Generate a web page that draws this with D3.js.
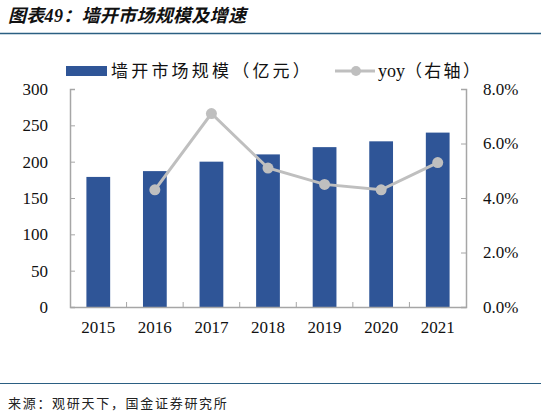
<!DOCTYPE html>
<html>
<head>
<meta charset="utf-8">
<script src="https://cdn.jsdelivr.net/npm/d3@7"></script>
<style>
  body { margin: 0; background: #fff; }
  svg text { font-family: "Liberation Serif", "Noto Sans CJK SC", serif; }
</style>
</head>
<body>
<div id="chart"></div>
<script>
// data
var years = ["2015", "2016", "2017", "2018", "2019", "2020", "2021"];
var marketSize = [179, 187, 200, 210, 220, 228, 240];   // 亿元
var yoy = [null, 4.3, 7.1, 5.1, 4.5, 4.3, 5.3];        // %
var leftTicks = [0, 50, 100, 150, 200, 250, 300];
var rightTicks = [0, 2, 4, 6, 8];

var svgWidth = 541, svgHeight = 416;
var svg = d3.select("#chart").append("svg")
  .attr("width", svgWidth)
  .attr("height", svgHeight);

// title + rules
svg.append("text")
  .attr("x", 8).attr("y", 22)
  .attr("font-family", "Noto Sans CJK SC")
  .attr("font-size", 18)
  .attr("font-weight", "bold")
  .attr("font-style", "italic")
  .attr("letter-spacing", 0.3)
  .attr("fill", "#111")
  .text("图表49：墙开市场规模及增速");

svg.append("line")
  .attr("x1", 0).attr("x2", svgWidth)
  .attr("y1", 33.5).attr("y2", 33.5)
  .attr("stroke", "#2b5f82").attr("stroke-width", 1.5);

svg.append("line")
  .attr("x1", 0).attr("x2", svgWidth)
  .attr("y1", 383.5).attr("y2", 383.5)
  .attr("stroke", "#2b5f82").attr("stroke-width", 1.2);

svg.append("text")
  .attr("x", 8).attr("y", 408)
  .attr("font-family", "Noto Sans CJK SC")
  .attr("font-size", 13)
  .attr("letter-spacing", 1.7)
  .attr("fill", "#222")
  .text("来源：观研天下，国金证券研究所");

// plot area
var plotLeft = 70, plotRight = 466, plotTop = 89, plotBottom = 307;

var xScale = d3.scaleBand().domain(years).range([plotLeft, plotRight]);
var yScale = d3.scaleLinear().domain([0, 300]).range([plotBottom, plotTop]);
var y2Scale = d3.scaleLinear().domain([0, 8]).range([plotBottom, plotTop]);

// bars
svg.selectAll("rect.bar")
  .data(marketSize)
  .enter().append("rect")
  .attr("class", "bar")
  .attr("x", function(d, i) { return xScale(years[i]) + xScale.bandwidth() * 0.29; })
  .attr("width", xScale.bandwidth() * 0.42)
  .attr("y", function(d) { return yScale(d); })
  .attr("height", function(d) { return plotBottom - yScale(d); })
  .attr("fill", "#2f5597");

// axes
var axisColor = "#a6a6a6";
var xAxis = svg.append("g")
  .attr("transform", "translate(0," + plotBottom + ")")
  .call(d3.axisBottom(xScale).tickSize(0).tickPadding(14));
xAxis.select(".domain").attr("stroke", axisColor).attr("stroke-width", 1.5);
xAxis.selectAll("text").attr("font-size", 17).attr("fill", "#111")
  .attr("font-family", "Liberation Serif");

// category separators on x axis
svg.selectAll("line.xsep")
  .data(years.slice(1))
  .enter().append("line")
  .attr("class", "xsep")
  .attr("x1", function(d) { return xScale(d); })
  .attr("x2", function(d) { return xScale(d); })
  .attr("y1", plotBottom).attr("y2", plotBottom - 5)
  .attr("stroke", axisColor).attr("stroke-width", 1);

var yAxis = svg.append("g")
  .attr("transform", "translate(" + plotLeft + ",0)")
  .call(d3.axisLeft(yScale).tickValues(leftTicks).tickSize(-5).tickPadding(22));
yAxis.select(".domain").attr("stroke", axisColor).attr("stroke-width", 1.5);
yAxis.selectAll(".tick line").attr("stroke", axisColor);
yAxis.selectAll("text").attr("font-size", 17).attr("fill", "#111")
  .attr("font-family", "Liberation Serif");

var y2Axis = svg.append("g")
  .attr("transform", "translate(" + plotRight + ",0)")
  .call(d3.axisRight(y2Scale).tickValues(rightTicks).tickSize(-5).tickPadding(17)
    .tickFormat(function(d) { return d.toFixed(1) + "%"; }));
y2Axis.select(".domain").attr("stroke", axisColor).attr("stroke-width", 1.5);
y2Axis.selectAll(".tick line").attr("stroke", axisColor);
y2Axis.selectAll("text").attr("font-size", 17).attr("fill", "#111")
  .attr("font-family", "Liberation Serif");

// yoy line
var lineColor = "#bfbfbf";
var yoyPts = years.map(function(y, i) { return { year: y, v: yoy[i] }; })
  .filter(function(d) { return d.v !== null; });

var line = d3.line()
  .x(function(d) { return xScale(d.year) + xScale.bandwidth() / 2; })
  .y(function(d) { return y2Scale(d.v); });

svg.append("path")
  .datum(yoyPts)
  .attr("d", line)
  .attr("fill", "none")
  .attr("stroke", lineColor)
  .attr("stroke-width", 3);

svg.selectAll("circle.pt")
  .data(yoyPts)
  .enter().append("circle")
  .attr("class", "pt")
  .attr("cx", function(d) { return xScale(d.year) + xScale.bandwidth() / 2; })
  .attr("cy", function(d) { return y2Scale(d.v); })
  .attr("r", 5.5)
  .attr("fill", lineColor);

// legend
var legend = svg.append("g");
legend.append("rect")
  .attr("x", 66).attr("y", 66).attr("width", 41).attr("height", 10)
  .attr("fill", "#2f5597");
legend.append("text")
  .attr("x", 111).attr("y", 77)
  .attr("font-family", "Noto Sans CJK SC")
  .attr("font-size", 17).attr("letter-spacing", 3.2).attr("fill", "#111")
  .text("墙开市场规模（亿元）");

legend.append("line")
  .attr("x1", 335).attr("x2", 375).attr("y1", 71).attr("y2", 71)
  .attr("stroke", lineColor).attr("stroke-width", 3);
legend.append("circle")
  .attr("cx", 356).attr("cy", 71).attr("r", 5)
  .attr("fill", lineColor);
legend.append("text")
  .attr("x", 378).attr("y", 77)
  .attr("font-size", 18).attr("fill", "#111")
  .text("yoy")
  .append("tspan")
  .attr("font-family", "Noto Sans CJK SC")
  .attr("font-size", 17)
  .attr("letter-spacing", 2.3)
  .text("（右轴）");
</script>
</body>
</html>
